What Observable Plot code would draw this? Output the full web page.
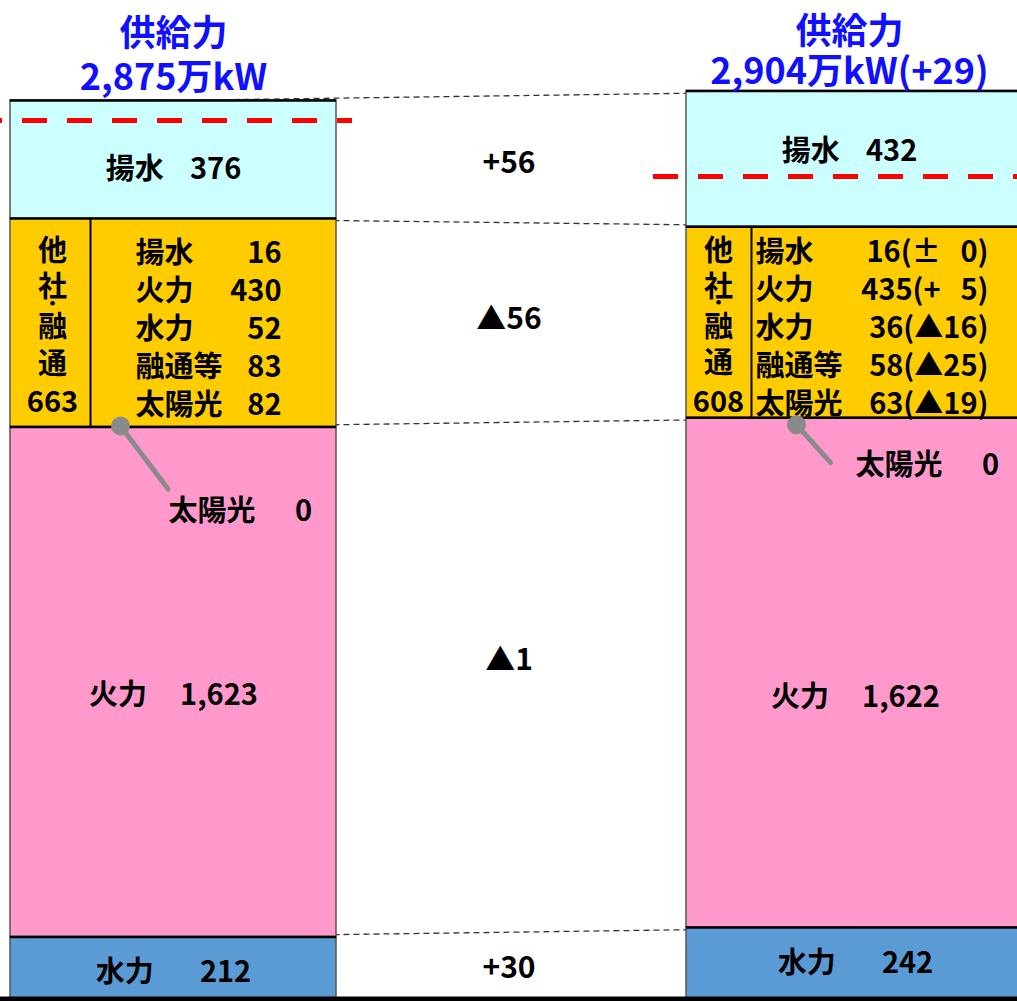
<!DOCTYPE html>
<html>
<head>
<meta charset="utf-8">
<script src="https://cdn.jsdelivr.net/npm/d3@7"></script>
<script src="https://cdn.jsdelivr.net/npm/@observablehq/plot@0.6"></script>
<style>
  html, body { margin: 0; padding: 0; overflow: hidden; background: #fff; }
  #chart svg { display: block; }
</style>
</head>
<body>
<div id="chart"></div>
<script>
// Supply capacity (万kW) by source, previous vs. current estimate
const bars = ["前回", "今回"];
const sources = ["水力", "火力", "他社・融通", "揚水"];
const prevValues = [212, 1623, 663, 376];
const currValues = [242, 1622, 608, 432];
const totals = [2875, 2904];
const demand = [2810, 2632];
// printed change per source between the two estimates
const changes = [30, -1, -56, 56];

// breakdown of 他社・融通
const otherItems = ["揚水", "火力", "水力", "融通等", "太陽光"];
const otherPrev = [16, 430, 52, 83, 82];
const otherCurr = [16, 435, 36, 58, 63];
// solar contribution inside the own thermal block
const solarOwn = [0, 0];

const FONT = '"Noto Sans CJK JP", sans-serif';
const fmt = d3.format(",");
const signed = v => (v < 0 ? "▲" + Math.abs(v) : "+" + v);
const diffText = v => (v === 0 ? "±   0" : v > 0 ? "+   " + v : "▲" + Math.abs(v));

// stacked rows built from the value arrays
const rows = [];
bars.forEach((bar, b) => {
  const vals = b ? currValues : prevValues;
  let base = 0;
  sources.forEach((source, i) => {
    rows.push({bar, b, i, source, value: vals[i], y1: base, y2: base + vals[i]});
    base += vals[i];
  });
});
const mid = d => (d.y1 + d.y2) / 2;
const others = rows.filter(d => d.source === "他社・融通");
const gaps = {"水力": "       ", "火力": "     ", "揚水": "    "};

const connectors = sources.map((s, i) => ({
  source: s,
  a: rows.find(d => d.b === 0 && d.i === i),
  c: rows.find(d => d.b === 1 && d.i === i)
}));
const changeRows = sources.map((s, i) => ({
  source: s,
  change: changes[i],
  y: (mid(connectors[i].a) + mid(connectors[i].c)) / 2
}));
const totalRows = bars.map((bar, b) => ({bar, b, total: totals[b], top: rows.filter(d => d.b === b).at(-1).y2}));
const demandRows = bars.map((bar, b) => ({bar, value: demand[b]}));

// per-bar placement of labels, the 他社・融通 details and the solar callout
const layouts = [
  {extend: 0, main: {"揚水": [0, 10], "火力": [0, 14], "水力": [0, 3]}, titleDy: -47, titleLead: 1.222,
   colDx: -121, divDx: -83, labelDx: -38, valueDx: 108, dotDy: -1, stemLen: 79, stemRotate: 143, solarDx: -5, solarDy: 85},
  {extend: -12, main: {"揚水": [0, -7], "火力": [6, 25], "水力": [6, -2]}, titleDy: -39.5, titleLead: 1.111,
   colDx: -131, divDx: -98, labelDx: -94, valueDx: 139, dotDy: 7, stemLen: 51, stemRotate: 138, solarDx: 6, solarDy: 48}
];
const changeDy = {"揚水": 4, "他社・融通": -3, "火力": -17, "水力": 1};
const stem = {draw(context, l) { context.moveTo(0, 0); context.lineTo(0, -l); }};

const txt = {fontFamily: FONT, fontWeight: "bold", fill: "#000"};

function barMarks(b) {
  const L = layouts[b];
  const data = rows.filter(d => d.b === b);
  return [
    Plot.barY(data, {x: "bar", y1: "y1", y2: "y2", fill: "source", stroke: "#555", strokeWidth: 1.5, insetRight: L.extend}),
    Plot.tickY(data, {x: "bar", y: "y2", stroke: "#000", strokeWidth: 2.5, insetRight: L.extend}),
    ...Object.entries(L.main).map(([source, [dx, dy]]) =>
      Plot.text(data.filter(d => d.source === source), {
        x: "bar", y: mid, dx, dy, fontSize: 29, ...txt,
        text: d => d.source + gaps[d.source] + fmt(d.value)
      })),
    // heading above each bar
    Plot.text(totalRows.filter(d => d.b === b), {
      x: "bar", y: "top", dy: L.titleDy, fontSize: 36, lineHeight: L.titleLead, letterSpacing: 1.5,
      fontFamily: FONT, fontWeight: "bold", fill: "#1010ff",
      text: d => "供給力\n" + fmt(d.total) + "万kW" + (d.b ? "(" + signed(d.total - totals[0]) + ")" : "")
    })
  ];
}

function otherMarks(b) {
  const L = layouts[b];
  const data = others.filter(d => d.b === b);
  const list = b
    ? otherCurr.map((v, k) => `${v}(${diffText(v - otherPrev[k])})`)
    : otherPrev.map(String);
  return [
    Plot.ruleX(data, {x: "bar", y1: "y1", y2: "y2", dx: L.divDx, stroke: "#000", strokeWidth: 2}),
    // vertical caption 他社・融通
    Plot.text(data, {x: "bar", y: mid, text: () => "他\n社", dx: L.colDx, dy: -55, lineHeight: 1.24, fontSize: 29, ...txt}),
    Plot.text(data, {x: "bar", y: mid, text: () => "・", dx: L.colDx, dy: -19, fontSize: 18, ...txt}),
    Plot.text(data, {x: "bar", y: mid, text: () => "融\n通", dx: L.colDx, dy: 21, lineHeight: 1.27, fontSize: 29, ...txt}),
    Plot.text(data, {x: "bar", y: mid, text: d => String(d.value), dx: L.colDx, dy: 80, fontSize: 29, ...txt}),
    Plot.text(data, {x: "bar", y: mid, text: () => otherItems.join("\n"), textAnchor: "start", dx: L.labelDx, dy: 4, lineHeight: 1.31, fontSize: 29, letterSpacing: 1, ...txt}),
    Plot.text(data, {x: "bar", y: mid, text: () => list.join("\n"), textAnchor: "end", dx: L.valueDx, dy: 4, lineHeight: 1.31, fontSize: 29, ...txt}),
    // solar callout at the boundary between thermal and 他社・融通
    Plot.vector(data, {x: "bar", y: "y1", dx: -53, dy: L.dotDy, anchor: "start", shape: stem, length: L.stemLen, rotate: L.stemRotate, stroke: "#8a8a8a", strokeWidth: 5}),
    Plot.dot(data, {x: "bar", y: "y1", dx: -53, dy: L.dotDy, r: 9.5, fill: "#8a8a8a"}),
    Plot.text(data, {x: "bar", y: "y1", text: () => `太陽光      ${solarOwn[b]}`, textAnchor: "start", dx: L.solarDx, dy: L.solarDy, fontSize: 29, ...txt})
  ];
}

const chart = Plot.plot({
  width: 1017,
  height: 1010,
  margin: 0,
  style: {fontFamily: FONT, background: "#fff"},
  x: {type: "band", domain: bars, range: [10, 1012], paddingInner: 0.5178, paddingOuter: 0, axis: null},
  y: {domain: [0, 3192], range: [1003, 0], axis: null},
  color: {domain: sources, range: ["#5b9bd5", "#ff99cc", "#ffcc00", "#ccffff"]},
  marks: [
    // dashed connectors between the segment tops of the two bars
    Plot.link(connectors, {x1: () => bars[0], x2: () => bars[1], y1: d => d.a.y2, y2: d => d.c.y2, stroke: "#333", strokeWidth: 1.3, strokeDasharray: "6,4"}),
    ...barMarks(0),
    ...barMarks(1),
    ...otherMarks(0),
    ...otherMarks(1),
    // demand level
    Plot.tickY(demandRows, {x: "bar", y: "value", stroke: "#ff0000", strokeWidth: 5, strokeDasharray: "25,20", insetLeft: -33, insetRight: -16}),
    // changes between the two estimates
    ...Object.entries(changeDy).map(([source, dy]) =>
      Plot.text(changeRows.filter(d => d.source === source), {y: "y", dy, text: d => signed(d.change), fontSize: 30, ...txt})),
    Plot.ruleY([0], {stroke: "#000", strokeWidth: 14})
  ]
});

document.getElementById("chart").append(chart);
</script>
</body>
</html>
